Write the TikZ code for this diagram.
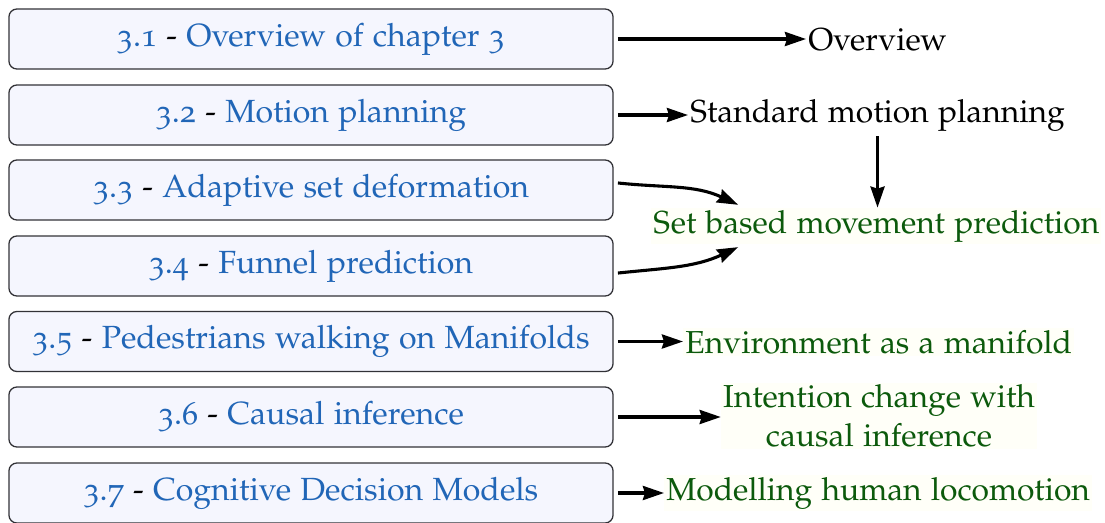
\documentclass[tikz,border=0pt]{standalone}
\usepackage[T1]{fontenc}
\usepackage[osf]{mathpazo}
\usetikzlibrary{arrows.meta}
\definecolor{secblue}{RGB}{33,102,183}
\definecolor{resgreen}{RGB}{12,90,12}
\definecolor{boxfill}{RGB}{245,246,254}
\definecolor{boxline}{RGB}{50,50,55}
\definecolor{labelfill}{RGB}{255,255,248}
\newcommand{\sep}{{\color{black}-}}
\begin{document}
\begin{tikzpicture}[x=0.025cm,y=-0.025cm,
  secbox/.style={draw=boxline, line width=0.9pt, rounded corners=0.2cm,
    fill=boxfill, minimum width=15.1cm, minimum height=1.5cm,
    font=\fontsize{22.8}{27.4}\selectfont, text=secblue},
  topic/.style={font=\fontsize{22.6}{27.4}\selectfont, inner sep=1.5pt},
  result/.style={topic, text=resgreen, fill=labelfill, align=center},
  link/.style={line width=2.2pt,
    -{Stealth[length=15pt,width=10pt,inset=1.5pt]}}]
\useasboundingbox (0,0) rectangle (1105,522);

% chapter sections
\node[secbox] (s1) at (311,39)    {3.1 \sep{} Overview of chapter 3};
\node[secbox] (s2) at (311,115)   {3.2 \sep{} Motion planning};
\node[secbox] (s3) at (311,190)   {3.3 \sep{} Adaptive set deformation};
\node[secbox] (s4) at (311,266)   {3.4 \sep{} Funnel prediction};
\node[secbox] (s5) at (311,341.5) {3.5 \sep{} Pedestrians walking on Manifolds};
\node[secbox] (s6) at (311,417)   {3.6 \sep{} Causal inference};
\node[secbox] (s7) at (311,493)   {3.7 \sep{} Cognitive Decision Models};

% topics
\node[topic, anchor=base west]  (ov)  at (806,50)  {Overview};
\node[topic, anchor=base west]  (smp) at (688,122) {Standard motion planning};
\node[result, anchor=base west] (set) at (651,233) {Set based movement prediction};
\node[result, anchor=base west] (env) at (683,353) {Environment as a manifold};
\node[result, anchor=center]    (int) at (879,416) {Intention change with\\causal inference};
\node[result, anchor=base west] (mod) at (664,500) {Modelling human locomotion};

% connectors
\draw[link] ([xshift=3pt]s1.east) -- (ov.west |- s1.east);
\draw[link] ([xshift=3pt]s2.east) -- (smp.west |- s2.east);
\draw[link] ([yshift=-2pt]smp.south) -- (smp.south |- set.north);
\draw[link] ([xshift=3pt,yshift=5pt]s3.east)
  to[out=-6,in=155] ([xshift=62pt,yshift=2pt]set.north west);
\draw[link] ([xshift=3pt,yshift=-5pt]s4.east)
  to[out=6,in=-155] ([xshift=62pt,yshift=-2pt]set.south west);
\draw[link] ([xshift=3pt]s5.east) -- (env.west |- s5.east);
\draw[link] ([xshift=3pt]s6.east) -- (int.west |- s6.east);
\draw[link] ([xshift=3pt]s7.east) -- (mod.west |- s7.east);
\end{tikzpicture}
\end{document}
